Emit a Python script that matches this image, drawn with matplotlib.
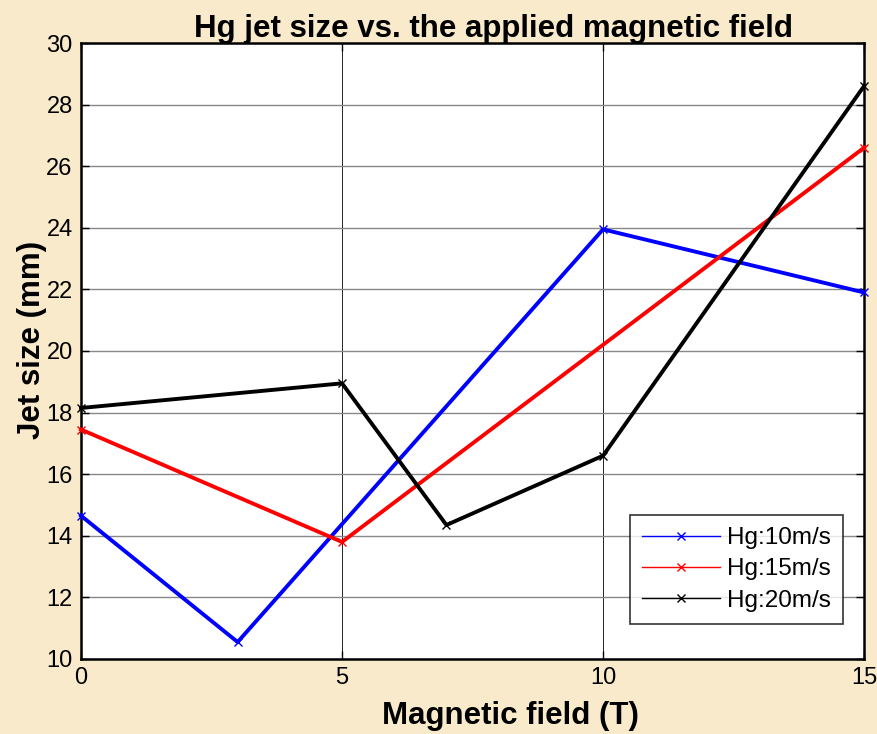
import matplotlib.pyplot as plt
from matplotlib.lines import Line2D

plt.rcParams['font.family'] = ['Liberation Sans', 'DejaVu Sans']

# Jet size measurements (mm) for each jet velocity
field_10 = [0, 3, 10, 15]
size_10 = [14.65, 10.55, 23.95, 21.9]

field_15 = [0, 5, 15]
size_15 = [17.45, 13.8, 26.6]

field_20 = [0, 5, 7, 10, 15]
size_20 = [18.15, 18.95, 14.35, 16.6, 28.6]

labels = ['Hg:10m/s', 'Hg:15m/s', 'Hg:20m/s']
colors = ['#0000FF', '#FF0000', '#000000']

fig = plt.figure(figsize=(8.77, 7.34), dpi=100)
fig.patch.set_facecolor('#F8EACB')
ax = fig.add_axes([0.0924, 0.1022, 0.8928, 0.8392])
ax.set_facecolor('white')

for x, y, c in zip([field_10, field_15, field_20], [size_10, size_15, size_20], colors):
    ax.plot(x, y, color=c, lw=2.8, marker='x', ms=6, mew=1, clip_on=False, zorder=3)

ax.set_xlim(0, 15)
ax.set_ylim(10, 30)
ax.set_xticks([0, 5, 10, 15])
ax.set_yticks(range(10, 31, 2))
ax.xaxis.grid(True, color='black', lw=0.6)
ax.yaxis.grid(True, color='#888888', lw=1.0)
ax.set_axisbelow(True)

ax.tick_params(direction='in', length=6, width=1, labelsize=17,
               top=True, right=True, pad=6)
for s in ax.spines.values():
    s.set_linewidth(1.8)

ax.set_title('Hg jet size vs. the applied magnetic field', fontsize=22.5,
             fontweight='bold', pad=4, x=0.527)
ax.set_xlabel('Magnetic field (T)', fontsize=22.5, fontweight='bold')
ax.xaxis.set_label_coords(0.549, -0.068)
ax.set_ylabel('Jet size (mm)', fontsize=22.5, fontweight='bold')
ax.yaxis.set_label_coords(-0.043, 0.518)

handles = [Line2D([], [], color=c, lw=1, marker='x', ms=6) for c in colors]
leg = ax.legend(handles, labels, loc='lower right', bbox_to_anchor=(0.973, 0.057),
                fontsize=17.5, frameon=True, fancybox=False, handlelength=3.2,
                borderpad=0.5, labelspacing=0.38, handletextpad=0.3, borderaxespad=0)
leg.get_frame().set_edgecolor('black')
leg.get_frame().set_linewidth(1.2)

fig.savefig('out.png', dpi=100, facecolor=fig.get_facecolor())
